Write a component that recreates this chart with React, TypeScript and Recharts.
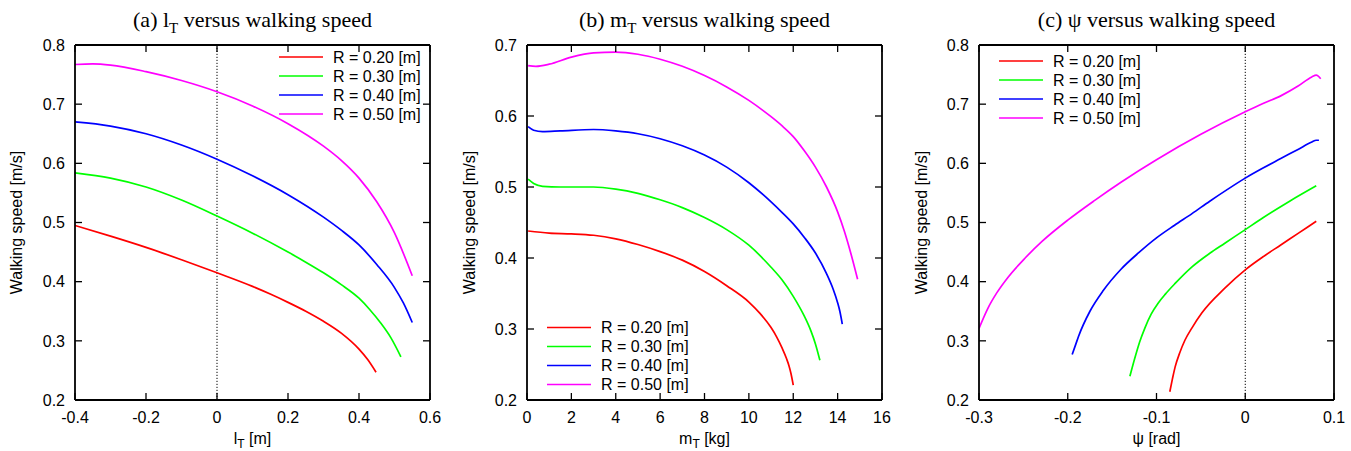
import React from "react";
import { LineChart, Line, XAxis, YAxis, ReferenceLine } from "recharts";

const SANS = '"Liberation Sans", Arial, Helvetica, sans-serif';
const SERIF = '"Liberation Serif", "Times New Roman", serif';

const seriesLabels = ["R = 0.20 [m]", "R = 0.30 [m]", "R = 0.40 [m]", "R = 0.50 [m]"];
const seriesColors = ["#ff0000", "#00ff00", "#0000ff", "#ff00ff"];

// (a) l_T [m] vs walking speed [m/s]
const lT20 = [[-0.4, 0.495], [-0.3, 0.477], [-0.2, 0.458], [-0.1, 0.437], [0, 0.415], [0.1, 0.392], [0.15, 0.379], [0.2, 0.365], [0.25, 0.35], [0.3, 0.333], [0.35, 0.313], [0.4, 0.286], [0.425, 0.268], [0.448, 0.247]];
const lT30 = [[-0.4, 0.584], [-0.3, 0.575], [-0.2, 0.56], [-0.1, 0.538], [0, 0.511], [0.1, 0.482], [0.2, 0.45], [0.25, 0.433], [0.3, 0.415], [0.35, 0.395], [0.4, 0.372], [0.43, 0.353], [0.46, 0.331], [0.49, 0.305], [0.518, 0.273]];
const lT40 = [[-0.4, 0.67], [-0.3, 0.663], [-0.2, 0.65], [-0.1, 0.631], [0, 0.607], [0.1, 0.579], [0.2, 0.547], [0.3, 0.509], [0.35, 0.487], [0.4, 0.462], [0.45, 0.429], [0.5, 0.39], [0.525, 0.364], [0.55, 0.331]];
const lT50 = [[-0.4, 0.767], [-0.35, 0.768], [-0.3, 0.766], [-0.2, 0.755], [-0.1, 0.74], [0, 0.721], [0.1, 0.697], [0.2, 0.667], [0.3, 0.629], [0.35, 0.605], [0.4, 0.575], [0.45, 0.535], [0.5, 0.4825], [0.55, 0.41]];

// (b) m_T [kg] vs walking speed
const mT20 = [[0.05, 0.438], [1, 0.435], [2, 0.434], [3, 0.432], [4, 0.427], [5, 0.419], [6, 0.409], [7, 0.397], [8, 0.381], [9, 0.361], [10, 0.338], [10.5, 0.322], [11, 0.302], [11.25, 0.289], [11.5, 0.273], [11.7, 0.258], [11.8, 0.249], [11.9, 0.237], [12, 0.221]];
const mT30 = [[0.05, 0.511], [0.3, 0.505], [0.7, 0.501], [1.5, 0.5], [3, 0.5], [4, 0.497], [5, 0.491], [6, 0.482], [7, 0.471], [8, 0.457], [9, 0.44], [10, 0.418], [11, 0.387], [11.5, 0.369], [12, 0.346], [12.5, 0.318], [12.8, 0.297], [13, 0.279], [13.2, 0.256]];
const mT40 = [[0.05, 0.585], [0.3, 0.58], [0.7, 0.578], [1.5, 0.579], [3, 0.581], [4, 0.579], [5, 0.575], [6, 0.568], [7, 0.558], [8, 0.545], [9, 0.528], [10, 0.506], [11, 0.479], [11.5, 0.464], [12, 0.448], [12.5, 0.429], [13, 0.407], [13.5, 0.378], [13.8, 0.356], [14, 0.337], [14.1, 0.325], [14.21, 0.307]];
const mT50 = [[0.05, 0.671], [0.4, 0.67], [1, 0.673], [2, 0.683], [3, 0.689], [4, 0.69], [5, 0.687], [6, 0.68], [7, 0.67], [8, 0.657], [9, 0.641], [10, 0.622], [11, 0.599], [11.5, 0.586], [12, 0.571], [12.5, 0.551], [13, 0.528], [13.5, 0.5], [14, 0.465], [14.3, 0.438], [14.6, 0.406], [14.9, 0.37]];

// (c) psi [rad] vs walking speed
const psi20 = [[-0.085, 0.214], [-0.082, 0.236], [-0.079, 0.256], [-0.074, 0.279], [-0.068, 0.301], [-0.06, 0.322], [-0.049, 0.347], [-0.023, 0.389], [0, 0.42], [0.02, 0.442], [0.04, 0.462], [0.06, 0.482], [0.08, 0.502]];
const psi30 = [[-0.13, 0.24], [-0.124, 0.273], [-0.119, 0.298], [-0.113, 0.322], [-0.106, 0.345], [-0.098, 0.364], [-0.09, 0.379], [-0.079, 0.397], [-0.06, 0.425], [-0.04, 0.448], [-0.023, 0.465], [0, 0.488], [0.02, 0.508], [0.05, 0.536], [0.08, 0.562]];
const psi40 = [[-0.195, 0.277], [-0.191, 0.294], [-0.188, 0.307], [-0.175, 0.35], [-0.16, 0.385], [-0.14, 0.421], [-0.12, 0.449], [-0.1, 0.474], [-0.08, 0.495], [-0.06, 0.515], [-0.04, 0.536], [-0.02, 0.556], [0, 0.575], [0.02, 0.592], [0.04, 0.608], [0.06, 0.624], [0.075, 0.636], [0.08, 0.639], [0.083, 0.639]];
const psi50 = [[-0.3, 0.321], [-0.29, 0.355], [-0.28, 0.381], [-0.267, 0.408], [-0.248, 0.44], [-0.229, 0.468], [-0.2, 0.504], [-0.17, 0.537], [-0.14, 0.568], [-0.1, 0.606], [-0.05, 0.649], [0, 0.687], [0.02, 0.701], [0.04, 0.714], [0.06, 0.731], [0.075, 0.746], [0.08, 0.749], [0.085, 0.743]];

const lTTicks = [-0.4, -0.2, 0, 0.2, 0.4, 0.6];
const mTTicks = [0, 2, 4, 6, 8, 10, 12, 14, 16];
const psiTicks = [-0.3, -0.2, -0.1, 0, 0.1];
const speedTicksA = [0.2, 0.3, 0.4, 0.5, 0.6, 0.7, 0.8];
const speedTicksB = [0.2, 0.3, 0.4, 0.5, 0.6, 0.7];

const toPts = (arr: number[][]) => arr.map(([x, y]) => ({ x, y }));

const TICK = 7;
const axisStyle = { stroke: "#000", strokeWidth: 1.8 };

const BottomTick = ({ x, y, payload }: any) => (
  <g>
    <line x1={x} y1={y} x2={x} y2={y - TICK} stroke="#000" strokeWidth={1.3} />
    <text x={x} y={y + 17} dy="0.36em" textAnchor="middle" fontFamily={SANS} fontSize={16} fill="#000">{String(payload.value)}</text>
  </g>
);
const TopTick = ({ x, y }: any) => <line x1={x} y1={y} x2={x} y2={y + TICK} stroke="#000" strokeWidth={1.3} />;
const LeftTick = ({ x, y, payload }: any) => (
  <g>
    <line x1={x} y1={y} x2={x + TICK} y2={y} stroke="#000" strokeWidth={1.3} />
    <text x={x - 10} y={y} dy="0.36em" textAnchor="end" fontFamily={SANS} fontSize={16} fill="#000">{String(payload.value)}</text>
  </g>
);
const RightTick = ({ x, y }: any) => <line x1={x} y1={y} x2={x - TICK} y2={y} stroke="#000" strokeWidth={1.3} />;

type PanelProps = {
  left: number;
  width: number;
  margin: { top: number; right: number; bottom: number; left: number };
  xTicks: number[];
  yTicks: number[];
  curves: number[][][];
  zeroLine: boolean;
};

function Panel({ left, width, margin, xTicks, yTicks, curves, zeroLine }: PanelProps) {
  const xDomain = [xTicks[0], xTicks[xTicks.length - 1]];
  const yDomain = [yTicks[0], yTicks[yTicks.length - 1]];
  const common = { type: "number" as const, allowDataOverflow: true, tickSize: 0, tickMargin: 0, tickLine: false, axisLine: axisStyle, interval: 0 as const };
  return (
    <div style={{ position: "absolute", left, top: 0 }}>
      <LineChart width={width} height={451} margin={margin}>
        <XAxis xAxisId="b" dataKey="x" domain={xDomain} ticks={xTicks} height={30} tick={(p: any) => <BottomTick {...p} />} {...common} />
        <XAxis xAxisId="t" orientation="top" dataKey="x" domain={xDomain} ticks={xTicks} height={10} tick={(p: any) => <TopTick {...p} />} {...common} />
        <YAxis yAxisId="l" domain={yDomain} ticks={yTicks} width={60} tick={(p: any) => <LeftTick {...p} />} {...common} />
        <YAxis yAxisId="r" orientation="right" domain={yDomain} ticks={yTicks} width={10} tick={(p: any) => <RightTick {...p} />} {...common} />
        {zeroLine && (
          <ReferenceLine xAxisId="b" yAxisId="l" x={0} stroke="#000" strokeWidth={1} strokeDasharray="1.2 1.8" />
        )}
        {curves.map((c, i) => (
          <Line
            key={seriesLabels[i]}
            xAxisId="b"
            yAxisId="l"
            data={toPts(c)}
            dataKey="y"
            name={seriesLabels[i]}
            type="monotone"
            stroke={seriesColors[i]}
            strokeWidth={1.7}
            dot={false}
            activeDot={false}
            isAnimationActive={false}
          />
        ))}
      </LineChart>
    </div>
  );
}

function LegendBox({ x, y }: { x: number; y: number }) {
  return (
    <g>
      {seriesLabels.map((label, i) => (
        <g key={label}>
          <line x1={x} y1={y + i * 19} x2={x + 44} y2={y + i * 19} stroke={seriesColors[i]} strokeWidth={1.7} />
          <text x={x + 54} y={y + i * 19} dy="0.36em" fontFamily={SANS} fontSize={16} fill="#000">{label}</text>
        </g>
      ))}
    </g>
  );
}

function YLabel({ x }: { x: number }) {
  return (
    <text x={x} y={222.5} transform={`rotate(-90 ${x} 222.5)`} textAnchor="middle" fontFamily={SANS} fontSize={16} fill="#000">
      Walking speed [m/s]
    </text>
  );
}

export default function App() {
  return (
    <div style={{ position: "absolute", left: 0, top: 0, width: 1351, height: 451, background: "#fff", overflow: "hidden" }}>
      <Panel left={0} width={450} margin={{ top: 35, right: 10, bottom: 21, left: 15 }} xTicks={lTTicks} yTicks={speedTicksA} curves={[lT20, lT30, lT40, lT50]} zeroLine />
      <Panel left={450} width={450} margin={{ top: 35, right: 8, bottom: 21, left: 17 }} xTicks={mTTicks} yTicks={speedTicksB} curves={[mT20, mT30, mT40, mT50]} zeroLine={false} />
      <Panel left={900} width={451} margin={{ top: 35, right: 7, bottom: 21, left: 19 }} xTicks={psiTicks} yTicks={speedTicksA} curves={[psi20, psi30, psi40, psi50]} zeroLine />
      <svg width={1351} height={451} style={{ position: "absolute", left: 0, top: 0, pointerEvents: "none" }}>
        <text x={252.5} y={27} textAnchor="middle" fontFamily={SERIF} fontSize={22} fill="#000">
          (a) l<tspan dy={6} fontSize={15}>T</tspan><tspan dy={-6}> versus walking speed</tspan>
        </text>
        <text x={704.5} y={27} textAnchor="middle" fontFamily={SERIF} fontSize={22} fill="#000">
          (b) m<tspan dy={6} fontSize={15}>T</tspan><tspan dy={-6}> versus walking speed</tspan>
        </text>
        <text x={1156.5} y={27} textAnchor="middle" fontFamily={SERIF} fontSize={22} fill="#000">
          (c) ψ versus walking speed
        </text>
        <YLabel x={21.5} />
        <YLabel x={474.5} />
        <YLabel x={926.5} />
        <text x={252.5} y={444} textAnchor="middle" fontFamily={SANS} fontSize={16} fill="#000">
          l<tspan dy={4} fontSize={12}>T</tspan><tspan dy={-4}> [m]</tspan>
        </text>
        <text x={704.5} y={444} textAnchor="middle" fontFamily={SANS} fontSize={16} fill="#000">
          m<tspan dy={4} fontSize={12}>T</tspan><tspan dy={-4}> [kg]</tspan>
        </text>
        <text x={1156.5} y={444} textAnchor="middle" fontFamily={SANS} fontSize={16} fill="#000">
          ψ [rad]
        </text>
        <LegendBox x={279} y={57} />
        <LegendBox x={547} y={327.5} />
        <LegendBox x={999} y={61} />
      </svg>
    </div>
  );
}
